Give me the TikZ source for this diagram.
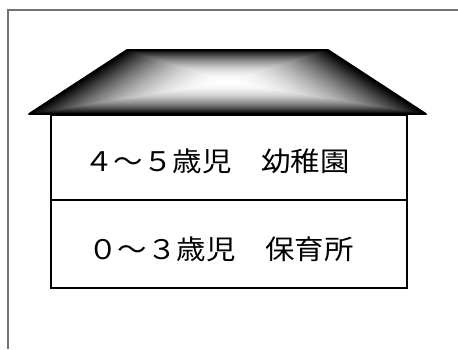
\documentclass[tikz,border=0pt]{standalone}
\usepackage{fontspec}
\newfontfamily\jp[FakeStretch=1.09]{Noto Sans CJK JP}
\begin{document}
\begin{tikzpicture}[x=1pt,y=-1pt,
  frameline/.style={draw=black!55, line width=1.5pt},
  floorbox/.style={draw=black, line width=1.6pt, minimum width=356pt, inner sep=0pt, anchor=north west},
  label/.style={font=\jp\fontsize{27}{27}\selectfont, inner sep=0pt}]
\useasboundingbox (0,0) rectangle (458,349);
\fill[white] (0,0) rectangle (458,349);
% outer frame
\coordinate (fb) at (8,349);
\coordinate (fc) at (8,10);
\coordinate (fr) at (458,10);
\draw[frameline] (fb) -- (fc) -- (fr);
% roof with centre gradient
\begin{scope}[shift={(227,82)}]
  \foreach \i in {0,...,60}{
    \pgfmathsetmacro{\s}{1-\i/60}
    \pgfmathsetmacro{\p}{max(0,min(100,100*(1-\s^2)))}
    \fill[white!\p!black] (-100*\s,-32*\s) -- (101*\s,-32*\s) -- (199*\s,32*\s) -- (-198*\s,32*\s) -- cycle;
  }
\end{scope}
\coordinate (rtl) at (127,50);
\coordinate (rtr) at (328,50);
\coordinate (rbr) at (426,114);
\coordinate (rbl) at (29,114);
\draw[line width=1.8pt, line join=round] (rtl) -- (rtr) -- (rbr) -- (rbl) -- cycle;
% floors
\node[floorbox, minimum height=85pt] (upper) at (50,114) {};
\node[floorbox, minimum height=88pt] (lower) at (50,199) {};
\node[label] (t1) at (217,161) {４～５歳児　幼稚園};
\node[label] (t2) at (221,249) {０～３歳児　保育所};
\end{tikzpicture}
\end{document}
